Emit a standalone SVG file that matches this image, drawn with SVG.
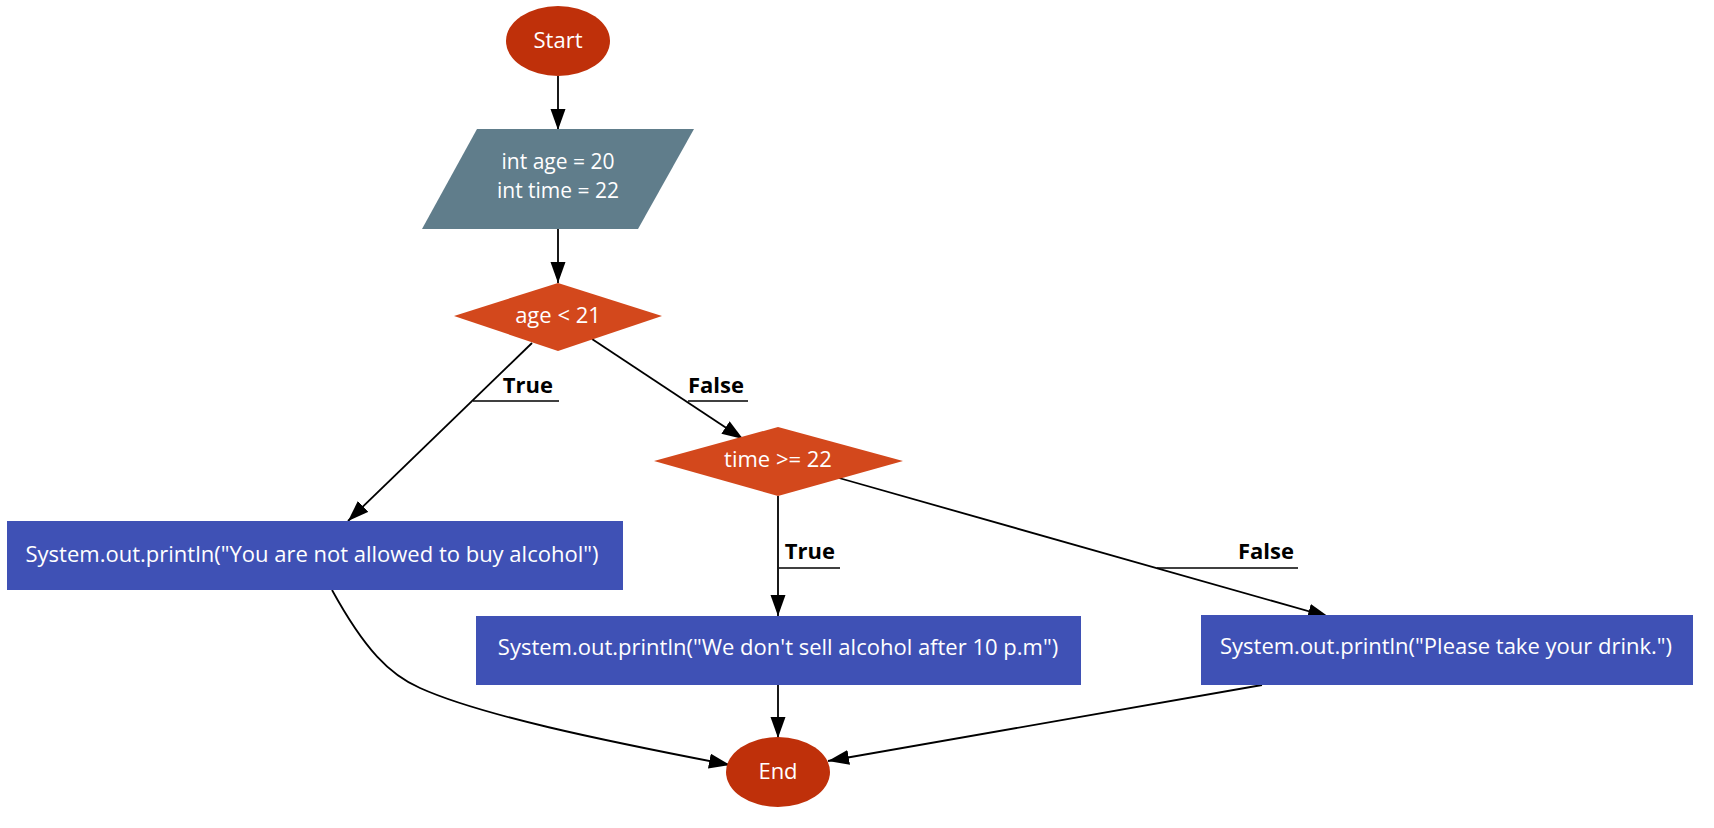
<svg xmlns="http://www.w3.org/2000/svg" width="1714" height="828" viewBox="0 0 1714 828">
<style>
.t{font-family:"Open Sans","Noto Sans",sans-serif;font-size:22px;fill:#ffffff;text-anchor:middle}
.t2{font-size:21px}
.l{font-family:"Open Sans","Noto Sans",sans-serif;font-size:22px;font-weight:bold;fill:#000000;text-anchor:end}
.e{fill:none;stroke:#000000;stroke-width:1.8}
.u{fill:none;stroke:#000000;stroke-width:1.6}
.term{fill:#bf300a}
.dec{fill:#d3481c}
.io{fill:#607d8b}
.proc{fill:#3f51b5}
</style>
<defs>
<marker id="ah" markerUnits="userSpaceOnUse" markerWidth="22" markerHeight="16" refX="21" refY="7.5" orient="auto">
<path d="M0,0 L21,7.5 L0,15 z" fill="#000000"/>
</marker>
</defs>
<rect width="1714" height="828" fill="#ffffff"/>
<g id="connectors">
<path class="e" d="M558,76 L558,130" marker-end="url(#ah)"/>
<path class="e" d="M558,229 L558,283" marker-end="url(#ah)"/>
<path class="e" d="M532,343 L348,521" marker-end="url(#ah)"/>
<path class="e" d="M592,339 L743,439" marker-end="url(#ah)"/>
<path class="e" d="M778,496 L778,616" marker-end="url(#ah)"/>
<path class="e" d="M839,478 L1329,617" marker-end="url(#ah)"/>
<path class="e" d="M778,685 L778,738" marker-end="url(#ah)"/>
<path class="e" d="M1262,685 L828,761" marker-end="url(#ah)"/>
<path class="e" d="M332,590 C365,650 390,675 420,688 C480,715 600,740 730,765" marker-end="url(#ah)"/>
<line class="u" x1="473" y1="401" x2="559" y2="401"/>
<text class="l" x="553" y="393">True</text>
<line class="u" x1="688" y1="401" x2="748" y2="401"/>
<text class="l" x="744" y="393">False</text>
<line class="u" x1="779" y1="568" x2="840" y2="568"/>
<text class="l" x="835" y="559">True</text>
<line class="u" x1="1157" y1="568" x2="1298" y2="568"/>
<text class="l" x="1294" y="559">False</text>
</g>
<g id="start">
<ellipse class="term" cx="558" cy="41" rx="52" ry="35"/>
<text class="t" x="558" y="48">Start</text>
</g>
<g id="init">
<polygon class="io" points="477,129 694,129 638,229 422,229"/>
<text class="t t2" x="558" y="169">int age = 20</text>
<text class="t t2" x="558" y="198">int time = 22</text>
</g>
<g id="cond-age">
<polygon class="dec" points="558,283 662,316 558,351 454,316"/>
<text class="t" x="558" y="323">age &lt; 21</text>
</g>
<g id="cond-time">
<polygon class="dec" points="778,427 903,461 778,496 654,461"/>
<text class="t" x="778" y="467">time &gt;= 22</text>
</g>
<g id="msg-age">
<rect class="proc" x="7" y="521" width="616" height="69"/>
<text class="t" x="312" y="562">System.out.println("You are not allowed to buy alcohol")</text>
</g>
<g id="msg-time">
<rect class="proc" x="476" y="616" width="605" height="69"/>
<text class="t" x="778" y="655">System.out.println("We don't sell alcohol after 10 p.m")</text>
</g>
<g id="msg-ok">
<rect class="proc" x="1201" y="615" width="492" height="70"/>
<text class="t" x="1446" y="654">System.out.println("Please take your drink.")</text>
</g>
<g id="end">
<ellipse class="term" cx="778" cy="772" rx="52" ry="35"/>
<text class="t" x="778" y="779">End</text>
</g>
</svg>
